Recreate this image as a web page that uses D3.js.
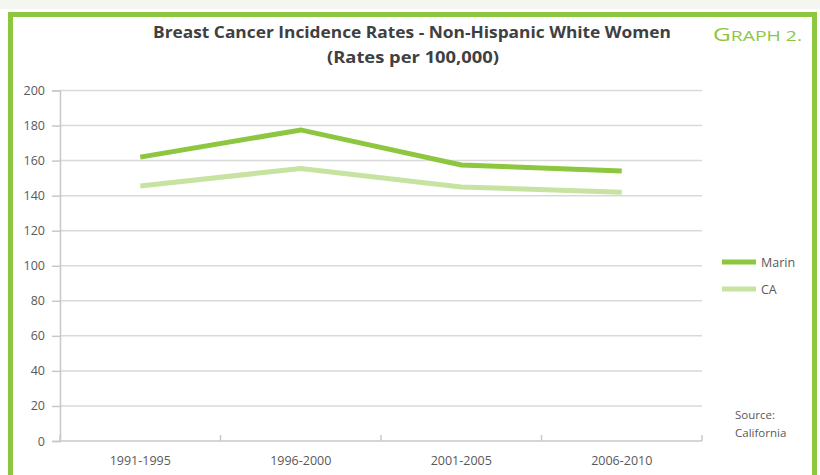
<!DOCTYPE html>
<html>
<head>
<meta charset="utf-8">
<script src="https://cdn.jsdelivr.net/npm/d3@7"></script>
<style>
  body { margin: 0; background: #fff; }
  svg { display: block; }
</style>
</head>
<body>
<script>
// data
const periods = ["1991-1995", "1996-2000", "2001-2005", "2006-2010"];
const marin = [162, 177.5, 157.5, 154];
const ca = [145.5, 155.5, 145, 142];
const yTicks = [0, 20, 40, 60, 80, 100, 120, 140, 160, 180, 200];

const width = 820, height = 475;
const font = "'Open Sans', sans-serif";
const svg = d3.select("body").append("svg")
  .attr("width", width).attr("height", height);

// frame
svg.append("rect").attr("x", 0).attr("y", 0).attr("width", width).attr("height", 9)
  .attr("fill", "#f4f7ef");
svg.append("path")
  .attr("d", "M10.5,480 L10.5,14.5 L814.5,14.5 L814.5,480")
  .attr("fill", "none").attr("stroke", "#8dc63f").attr("stroke-width", 5);

// scales
const x = d3.scaleBand().domain(periods).range([60, 702]);
const y = d3.scaleLinear().domain([0, 200]).range([441, 90.5]);

// gridlines
svg.append("g").selectAll("line").data(yTicks.filter(d => d > 0)).join("line")
  .attr("x1", 60).attr("x2", 702)
  .attr("y1", d => y(d)).attr("y2", d => y(d))
  .attr("stroke", "#d9d9d9").attr("stroke-width", 1.5);

// y axis
const yAxis = svg.append("g").attr("transform", "translate(60,0)")
  .call(d3.axisLeft(y).tickValues(yTicks).tickSize(8).tickPadding(7));
yAxis.select(".domain").attr("stroke", "#c8c8c8").attr("stroke-width", 1.5);
yAxis.selectAll(".tick line").attr("stroke", "#c8c8c8").attr("stroke-width", 1.5);
yAxis.selectAll("text").attr("fill", "#595959")
  .style("font-family", font).style("font-size", "12.5px");

// x axis
const xAxis = svg.append("g").attr("transform", "translate(0,441)")
  .call(d3.axisBottom(x).tickSize(0).tickPadding(15));
xAxis.select(".domain").attr("stroke", "#c8c8c8").attr("stroke-width", 1.5)
  .attr("d", "M60,0H702");
xAxis.selectAll("text").attr("fill", "#595959")
  .style("font-family", font).style("font-size", "12.5px");
svg.append("g").selectAll("line")
  .data(periods.map(p => x(p)).concat([x.range()[1]]))
  .join("line")
  .attr("x1", d => d).attr("x2", d => d).attr("y1", 441).attr("y2", 435)
  .attr("stroke", "#c8c8c8").attr("stroke-width", 1.5);

// lines
const line = d3.line().x((d, i) => x(periods[i]) + x.bandwidth() / 2).y(d => y(d));
svg.append("path").datum(ca).attr("d", line)
  .attr("fill", "none").attr("stroke", "#c6e3a2").attr("stroke-width", 5);
svg.append("path").datum(marin).attr("d", line)
  .attr("fill", "none").attr("stroke", "#8dc63f").attr("stroke-width", 5);

// legend
const legend = [["Marin", "#8dc63f", 262], ["CA", "#c6e3a2", 289]];
legend.forEach(([name, col, ly]) => {
  svg.append("line").attr("x1", 722).attr("x2", 756).attr("y1", ly).attr("y2", ly)
    .attr("stroke", col).attr("stroke-width", 5);
  svg.append("text").attr("x", 761).attr("y", ly + 4.5).text(name)
    .attr("fill", "#595959")
    .style("font-family", font).style("font-size", "12.5px");
});

// source
svg.append("text").attr("x", 735).attr("y", 419).text("Source:")
  .attr("fill", "#595959").style("font-family", font).style("font-size", "11.5px");
svg.append("text").attr("x", 735).attr("y", 437).text("California")
  .attr("fill", "#595959").style("font-family", font).style("font-size", "11.5px");

// title
svg.append("text").attr("x", 412).attr("y", 38).attr("text-anchor", "middle")
  .text("Breast Cancer Incidence Rates - Non-Hispanic White Women")
  .attr("fill", "#404040").attr("textLength", 518).attr("lengthAdjust", "spacingAndGlyphs")
  .style("font-family", font).style("font-size", "16px").style("font-weight", "bold");
svg.append("text").attr("x", 413).attr("y", 63).attr("text-anchor", "middle")
  .text("(Rates per 100,000)")
  .attr("fill", "#404040").attr("textLength", 172).attr("lengthAdjust", "spacingAndGlyphs")
  .style("font-family", font).style("font-size", "16px").style("font-weight", "bold");

// graph label, drawn as small caps by hand
const g2 = svg.append("text").attr("x", 713).attr("y", 41)
  .attr("fill", "#8dc63f").attr("textLength", 89).attr("lengthAdjust", "spacingAndGlyphs")
  .style("font-family", font);
g2.append("tspan").style("font-size", "19px").text("G");
g2.append("tspan").style("font-size", "15px").text("RAPH 2.");
</script>
</body>
</html>
